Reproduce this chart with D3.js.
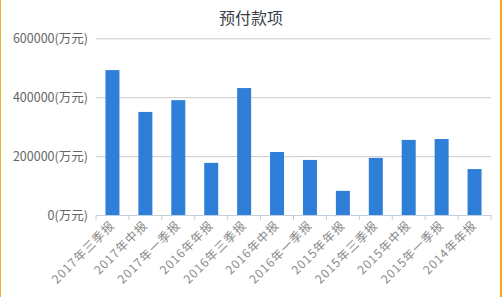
<!DOCTYPE html>
<html><head><meta charset="utf-8">
<script src="https://cdn.jsdelivr.net/npm/d3@7/dist/d3.min.js"></script>
<style>
html,body{margin:0;padding:0;background:#fff;}
#wrap{position:absolute;left:0;top:0;width:499px;height:297px;border-left:1px solid #f0b429;border-right:2px solid #f5a21b;}
text{font-family:"Noto Sans CJK SC","Noto Sans",sans-serif;}
</style></head>
<body><div id="wrap"></div>
<script>
const categories = ["2017年三季报","2017年中报","2017年一季报","2016年年报","2016年三季报","2016年中报","2016年一季报","2015年年报","2015年三季报","2015年中报","2015年一季报","2014年年报"];
const values = [492000,350000,390000,177000,431000,214000,187000,82000,194000,255000,258000,156000];
const yTicks = [0,200000,400000,600000];
const title = "预付款项";
const unit = "(万元)";

const W = 503, H = 297;
const svg = d3.select("#wrap").append("svg").attr("width", W).attr("height", H)
  .style("position","absolute").style("left","-1px").style("top","0");

const x = d3.scaleBand().domain(categories).range([96, 491]).paddingInner(0.575).paddingOuter(0.2875);
const y = d3.scaleLinear().domain([0, 600000]).range([215, 38.3]);

svg.append("text").attr("x", 251).attr("y", 23.5).attr("text-anchor","middle")
  .attr("font-size", 16).attr("fill", "#3a3f48").text(title);

// grid + y labels
const ya = svg.append("g").attr("transform","translate(96,0)")
  .call(d3.axisLeft(y).tickValues(yTicks).tickSize(-395).tickPadding(8).tickFormat(d => d + unit));
ya.select(".domain").remove();
ya.selectAll(".tick line").attr("stroke", "#ccc").attr("stroke-width", 1);
ya.selectAll(".tick text").attr("font-size", 12.5).attr("fill", "#666").attr("font-family", '"Noto Sans CJK SC",sans-serif');
ya.selectAll(".tick").filter(d => d === 0).select("line").remove();

// bars
svg.append("g").selectAll("rect").data(values).join("rect")
  .attr("x", (d, i) => x(categories[i]))
  .attr("width", x.bandwidth())
  .attr("y", d => y(d))
  .attr("height", d => y(0) - y(d))
  .attr("fill", "#2f7ed8");

// x axis
const xa = svg.append("g").attr("transform","translate(0,215)")
  .call(d3.axisBottom(x).tickSize(0).tickSizeOuter(0));
xa.select(".domain").attr("stroke", "#c0d0e0");
xa.selectAll(".tick text")
  .attr("font-size", 12).attr("fill", "#8a8a8a").attr("letter-spacing", "1px")
  .attr("font-family", '"Noto Sans CJK SC",sans-serif')
  .attr("text-anchor", "end").attr("dy", null).attr("y", 0)
  .attr("transform", "translate(3,11) rotate(-45)");
// band boundary ticks
xa.selectAll(".bt").data(d3.range(categories.length + 1)).join("line")
  .attr("x1", i => 96 + i * (395 / categories.length)).attr("x2", i => 96 + i * (395 / categories.length))
  .attr("y1", 0).attr("y2", 5).attr("stroke", "#c0d0e0");
</script></body></html>
